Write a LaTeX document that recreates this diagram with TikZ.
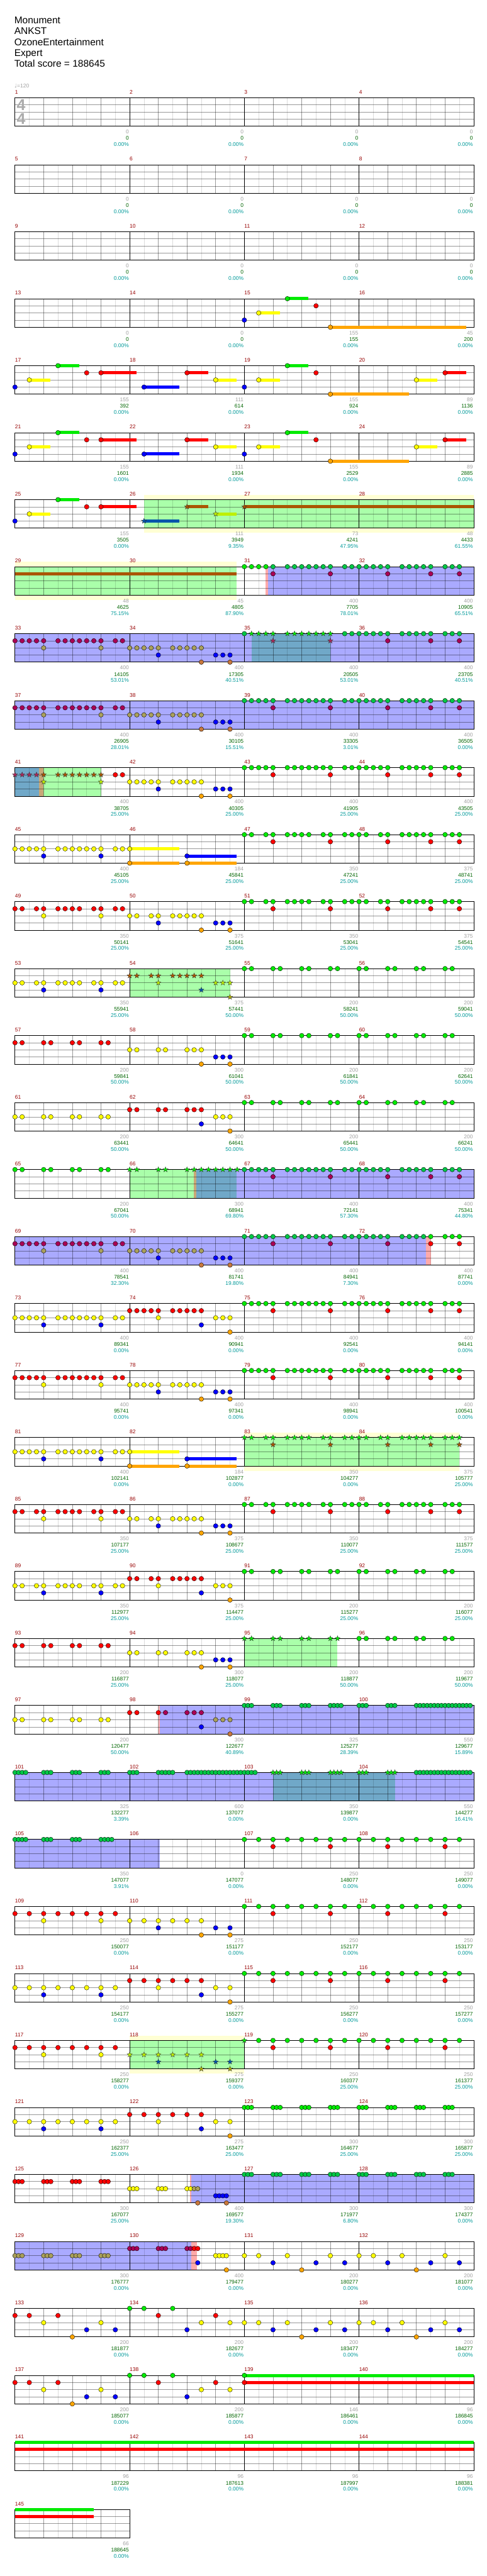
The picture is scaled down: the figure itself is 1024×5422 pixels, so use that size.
\documentclass[tikz,border=0pt]{standalone}
\usepackage{fontspec}
\setmainfont{Liberation Sans}
\newfontfamily\symfont{DejaVu Sans}

% note colours
\definecolor{ngrn}{RGB}{0,235,0}
\definecolor{nred}{RGB}{255,0,0}
\definecolor{nyel}{RGB}{255,255,0}
\definecolor{nblu}{RGB}{0,0,255}
\definecolor{norg}{RGB}{255,165,0}
\definecolor{agrn}{RGB}{0,200,70}
\definecolor{apur}{RGB}{170,0,85}
\definecolor{aoli}{RGB}{170,160,90}
\definecolor{aorg}{RGB}{200,120,60}
\definecolor{sgrn}{RGB}{0,235,0}
\definecolor{sbrn}{RGB}{170,85,0}
\definecolor{syel}{RGB}{190,240,0}
\definecolor{sblu}{RGB}{0,85,170}
\definecolor{sorg}{RGB}{170,170,0}
\definecolor{spur}{RGB}{170,40,90}
% region colours
\definecolor{spg}{RGB}{170,255,170}
\definecolor{spy}{RGB}{255,255,212}
\definecolor{actb}{RGB}{170,170,255}
\definecolor{teal}{RGB}{112,168,200}
\definecolor{pnk}{RGB}{255,170,170}
\definecolor{tan}{RGB}{200,168,120}
% text colours
\definecolor{mnumcol}{RGB}{150,0,0}
\definecolor{sgray}{RGB}{160,160,160}
\definecolor{sgreen}{RGB}{0,100,0}
\definecolor{steal}{RGB}{0,153,153}

\tikzset{
  chartrow/.style={xshift=31.5pt, yshift={-205.7pt-141pt*#1}, x=15.08pt, y=-15pt},
  lightln/.style={black, opacity=0.14, line width=0.8pt},
  midln/.style={black, opacity=0.4, line width=0.8pt},
  barln/.style={black, line width=0.8pt},
  staffedge/.style={black, line width=1pt},
  pics/gem/.style={code={\filldraw[fill=#1, draw=black, line width=0.5pt] (0,0) circle[radius=4.9pt];}},
  pics/spstar/.style={code={\filldraw[fill=#1, draw=black!80, line width=0.45pt]
    (90:5.8pt) -- (126:2.4pt) -- (162:5.8pt) -- (198:2.4pt) -- (234:5.8pt) -- (270:2.4pt)
    -- (306:5.8pt) -- (342:2.4pt) -- (18:5.8pt) -- (54:2.4pt) -- cycle;}},
  numfont/.style={font=\fontsize{11.2}{12}\selectfont, inner sep=0pt},
  mnum/.style={numfont, text=mnumcol, anchor=base west},
  scorea/.style={numfont, text=sgray, anchor=base east},
  scoreb/.style={numfont, text=sgreen, anchor=base east},
  scorec/.style={numfont, text=steal, anchor=base east},
  titletext/.style={font=\fontsize{20.5}{23}\selectfont, inner sep=0pt, anchor=base west},
}

% staff grid of one row (in sixteenths and lanes)
\newcommand\drawstaff{%
  \foreach \e in {2,6,...,62} \draw[lightln] (\e,0) -- (\e,4);
  \foreach \e in {4,8,...,60} \draw[midln] (\e,0) -- (\e,4);
  \foreach \l in {1,2,3} \draw[midln] (0,\l) -- (64,\l);
  \foreach \e in {16,32,48} \draw[barln] (\e,0) -- (\e,4);
  \draw[staffedge] (0,0) rectangle (64,4);
}
\newcommand\drawstaffone{%
  \foreach \e in {2,6,10,14} \draw[lightln] (\e,0) -- (\e,4);
  \foreach \e in {4,8,12} \draw[midln] (\e,0) -- (\e,4);
  \foreach \l in {1,2,3} \draw[midln] (0,\l) -- (16,\l);
  \draw[staffedge] (0,0) rectangle (16,4);
}
\newcommand\spfill[3]{\fill[#1] (#2,0) rectangle (#3,4);}
\newcommand\spband[2]{\fill[spy] ([yshift=10pt]#1,0) rectangle ([yshift=-10pt]#2,4);}
\newcommand\hold[4]{\fill[#1] ([yshift=3.3pt]#3,#2) rectangle ([yshift=-3.3pt]#4,#2);}
% #1 pic, #2 offset, #3 colour, #4 lane, #5 positions
\newcommand\gemrow[5]{\foreach \nx in {#5} {\pic at ({#2+\nx},#4) {#1=#3};}}

% repeating figures
\newcommand\patGR[4]{\gemrow{#1}{#2}{#3}{0}{0,1,2,3,4,6,7,8,9,10,11,12,14,15,16,17,18,19,20,22,23,24,25,26,28,29,30}%
  \gemrow{#1}{#2}{#4}{1}{4,12,20,26,30}}
\newcommand\patGRb[4]{\gemrow{#1}{#2}{#3}{0}{0,1,3,4,6,7,8,9,11,12,14,15,16,17,19,20,22,23,24,25,26,28,29,30}%
  \gemrow{#1}{#2}{#4}{1}{4,12,20,26,30}}
\newcommand\patRY[5]{%
  \gemrow{gem}{#1}{#2}{1}{0,1,2,3,4,6,7,8,9,10,11,12,14,15}%
  \gemrow{gem}{#1}{#3}{2}{4,12,16,17,18,19,20,22,23,24,25,26}%
  \gemrow{gem}{#1}{#4}{3}{20,28,29,30}%
  \gemrow{gem}{#1}{#5}{4}{26,30}}
\newcommand\patRYb[1]{%
  \gemrow{gem}{#1}{nred}{1}{0,1,3,4,6,7,8,9,11,12,14,15}%
  \gemrow{gem}{#1}{nyel}{2}{4,12,16,17,19,20,22,23,24,25,26}%
  \gemrow{gem}{#1}{nblu}{3}{20,28,29,30}%
  \gemrow{gem}{#1}{norg}{4}{26,30}}
\newcommand\patYR[1]{%
  \gemrow{gem}{#1}{nyel}{2}{0,1,2,3,4,6,7,8,9,10,11,12,14,15,20,28,29,30}%
  \gemrow{gem}{#1}{nblu}{3}{4,12,26}%
  \gemrow{gem}{#1}{nred}{1}{16,17,18,19,20,22,23,24,25,26}%
  \gemrow{gem}{#1}{norg}{4}{30}}
\newcommand\patYS[1]{%
  \hold{nyel}{2}{16}{22.95}\hold{norg}{4}{16}{22.95}\hold{nblu}{3}{24}{30.95}\hold{norg}{4}{24}{30.95}%
  \gemrow{gem}{#1}{nyel}{2}{0,1,2,3,4,6,7,8,9,10,11,12,14,15,16}%
  \gemrow{gem}{#1}{nblu}{3}{4,12,24}%
  \gemrow{gem}{#1}{norg}{4}{16,24}}
\newcommand\patGP[3]{\gemrow{#1}{#2}{#3}{0}{0,1,4,5,8,9,12,13,16,17,20,21,24,25,28,29}}
\newcommand\patRP[1]{%
  \gemrow{gem}{#1}{nred}{1}{0,1,4,5,8,9,12,13}%
  \gemrow{gem}{#1}{nyel}{2}{16,17,20,21,24,25,26}%
  \gemrow{gem}{#1}{nblu}{3}{28,29,30}%
  \gemrow{gem}{#1}{norg}{4}{26,30}}
\newcommand\patYP[1]{%
  \gemrow{gem}{#1}{nyel}{2}{0,1,4,5,8,9,12,13,28,29,30}%
  \gemrow{gem}{#1}{nred}{1}{16,17,20,21,24,25,26}%
  \gemrow{gem}{#1}{nblu}{3}{26}%
  \gemrow{gem}{#1}{norg}{4}{30}}
\newcommand\patE[1]{\gemrow{gem}{#1}{ngrn}{0}{0,2,...,30}\gemrow{gem}{#1}{nred}{1}{4,12,20,28}}
\newcommand\patF[1]{%
  \gemrow{gem}{#1}{nyel}{2}{0,2,6,12,16,18,22,28}%
  \gemrow{gem}{#1}{nblu}{3}{4,10,14,20,26,30}%
  \gemrow{gem}{#1}{norg}{4}{8,24}}
\newcommand\patG[1]{%
  \gemrow{gem}{#1}{nred}{1}{0,2,6,20,28}%
  \gemrow{gem}{#1}{nyel}{2}{4,12,26,30}%
  \gemrow{gem}{#1}{norg}{4}{8}%
  \gemrow{gem}{#1}{nblu}{3}{10,14,24}%
  \gemrow{gem}{#1}{ngrn}{0}{16,18,22}}
\newcommand\patT[2]{\gemrow{gem}{#1}{#2}{0}{0,0.5,1,4,4.5,5,8,8.5,9,12,12.5,13,16,16.5,17,20,20.5,21,24,24.5,25,28,28.5,29}}
\newcommand\introrow{%
  \hold{nyel}{2}{2}{4.95}\hold{ngrn}{0}{6}{8.95}\hold{nred}{1}{12}{16.95}\hold{nblu}{3}{18}{22.95}%
  \hold{nred}{1}{24}{26.95}\hold{nyel}{2}{28}{30.95}\hold{nyel}{2}{34}{36.95}\hold{ngrn}{0}{38}{40.95}%
  \hold{norg}{4}{44}{54.95}\hold{nyel}{2}{56}{58.95}\hold{nred}{1}{60}{62.95}%
  \gemrow{gem}{0}{nblu}{3}{0,18,32}\gemrow{gem}{0}{nyel}{2}{2,28,34,56}\gemrow{gem}{0}{ngrn}{0}{6,38}%
  \gemrow{gem}{0}{nred}{1}{10,12,24,42,60}\gemrow{gem}{0}{norg}{4}{44}}

\begin{document}
\begin{tikzpicture}[x=1pt, y=-1pt]
  \useasboundingbox (0,0) rectangle (1024,5422);

  % rows 1-12
  \foreach \k in {0,1,2} {\begin{scope}[chartrow=\k] \drawstaff \end{scope}}
  \begin{scope}[chartrow=3]
    \drawstaff
    \hold{nyel}{2}{34}{36.95}\hold{ngrn}{0}{38}{40.95}\hold{norg}{4}{44}{62.95}
    \gemrow{gem}{0}{nblu}{3}{32}\gemrow{gem}{0}{nyel}{2}{34}\gemrow{gem}{0}{ngrn}{0}{38}
    \gemrow{gem}{0}{nred}{1}{42}\gemrow{gem}{0}{norg}{4}{44}
  \end{scope}
  \begin{scope}[chartrow=4] \drawstaff \introrow \end{scope}
  \begin{scope}[chartrow=5] \drawstaff \introrow \end{scope}
  \begin{scope}[chartrow=6]
    \spband{18}{64}\spfill{spg}{18}{64}
    \drawstaff
    \hold{nyel}{2}{2}{4.95}\hold{ngrn}{0}{6}{8.95}\hold{nred}{1}{12}{16.95}
    \hold{sblu}{3}{18}{22.95}\hold{sbrn}{1}{24}{26.95}\hold{syel}{2}{28}{30.95}\hold{sbrn}{1}{32}{64}
    \gemrow{gem}{0}{nblu}{3}{0}\gemrow{gem}{0}{nyel}{2}{2}\gemrow{gem}{0}{ngrn}{0}{6}\gemrow{gem}{0}{nred}{1}{10,12}
    \gemrow{spstar}{0}{sblu}{3}{18}\gemrow{spstar}{0}{sbrn}{1}{24,32}\gemrow{spstar}{0}{syel}{2}{28}
  \end{scope}
  \begin{scope}[chartrow=7]
    \spband{0}{30.95}\spfill{spg}{0}{30.95}\spfill{pnk}{34.96}{35.3}\spfill{actb}{35.3}{64}
    \drawstaff
    \hold{sbrn}{1}{0}{30.95}
    \gemrow{gem}{32}{ngrn}{0}{0,1,2,3}
    \gemrow{gem}{32}{agrn}{0}{4,6,7,8,9,10,11,12,14,15,16,17,18,19,20,22,23,24,25,26,28,29,30}
    \gemrow{gem}{32}{apur}{1}{4,12,20,26,30}
  \end{scope}
  \begin{scope}[chartrow=8]
    \spfill{actb}{0}{64}\spfill{teal}{33}{44}
    \drawstaff
    \patRY{0}{apur}{aoli}{nblu}{aorg}
    \gemrow{gem}{32}{agrn}{0}{0}
    \gemrow{spstar}{32}{sgrn}{0}{1,2,3,4,6,7,8,9,10,11,12}
    \gemrow{spstar}{32}{spur}{1}{4,12}
    \gemrow{gem}{32}{agrn}{0}{14,15,16,17,18,19,20,22,23,24,25,26,28,29,30}
    \gemrow{gem}{32}{apur}{1}{20,26,30}
  \end{scope}
  \begin{scope}[chartrow=9]
    \spfill{actb}{0}{64}
    \drawstaff
    \patRY{0}{apur}{aoli}{nblu}{aorg}
    \patGR{gem}{32}{agrn}{apur}
  \end{scope}
  \begin{scope}[chartrow=10]
    \spfill{teal}{0}{3.31}\spfill{tan}{3.31}{4}\spfill{spg}{4}{12}
    \drawstaff
    \gemrow{spstar}{0}{spur}{1}{0,1,2,3}
    \gemrow{spstar}{0}{sbrn}{1}{4,6,7,8,9,10,11,12}
    \gemrow{spstar}{0}{syel}{2}{4,12}
    \gemrow{gem}{0}{nred}{1}{14,15}
    \gemrow{gem}{0}{nyel}{2}{16,17,18,19,20,22,23,24,25,26}
    \gemrow{gem}{0}{nblu}{3}{20,28,29,30}
    \gemrow{gem}{0}{norg}{4}{26,30}
    \patGR{gem}{32}{ngrn}{nred}
  \end{scope}
  \begin{scope}[chartrow=11] \drawstaff \patYS{0} \patGRb{gem}{32}{ngrn}{nred} \end{scope}
  \begin{scope}[chartrow=12] \drawstaff \patRYb{0} \patGRb{gem}{32}{ngrn}{nred} \end{scope}
  \begin{scope}[chartrow=13]
    \spfill{spg}{16}{30.04}
    \drawstaff
    \gemrow{gem}{0}{nyel}{2}{0,1,3,4,6,7,8,9,11,12,14,15}
    \gemrow{gem}{0}{nblu}{3}{4,12}
    \gemrow{spstar}{0}{sbrn}{1}{16,17,19,20,22,23,24,25,26}
    \gemrow{spstar}{0}{syel}{2}{20,28,29,30}
    \gemrow{spstar}{0}{sblu}{3}{26}
    \gemrow{spstar}{0}{sorg}{4}{30}
    \patGP{gem}{32}{ngrn}
  \end{scope}
  \begin{scope}[chartrow=14] \drawstaff \patRP{0} \patGP{gem}{32}{ngrn} \end{scope}
  \begin{scope}[chartrow=15] \drawstaff \patYP{0} \patGP{gem}{32}{ngrn} \end{scope}
  \begin{scope}[chartrow=16]
    \spfill{spg}{16}{24.99}\spfill{tan}{24.99}{25.34}\spfill{actb}{25.34}{64}\spfill{teal}{25.34}{30.95}
    \drawstaff
    \gemrow{gem}{0}{ngrn}{0}{0,1,4,5,8,9,12,13}
    \gemrow{spstar}{0}{sgrn}{0}{16,17,20,21,24,25,26,27,28,29,30,31}
    \patGR{gem}{32}{agrn}{apur}
  \end{scope}
  \begin{scope}[chartrow=17]
    \spfill{actb}{0}{57.34}\spfill{pnk}{57.34}{58}
    \drawstaff
    \patRY{0}{apur}{aoli}{nblu}{aorg}
    \gemrow{gem}{32}{agrn}{0}{0,1,2,3,4,6,7,8,9,10,11,12,14,15,16,17,18,19,20,22,23,24,25}
    \gemrow{gem}{32}{ngrn}{0}{26,28,29,30}
    \gemrow{gem}{32}{apur}{1}{4,12,20}
    \gemrow{gem}{32}{nred}{1}{26,30}
  \end{scope}
  \begin{scope}[chartrow=18] \drawstaff \patYR{0} \patGR{gem}{32}{ngrn}{nred} \end{scope}
  \begin{scope}[chartrow=19] \drawstaff \patRY{0}{nred}{nyel}{nblu}{norg} \patGR{gem}{32}{ngrn}{nred} \end{scope}
  \begin{scope}[chartrow=20]
    \spband{32}{62}\spfill{spg}{32}{62}
    \drawstaff
    \patYS{0}
    \patGRb{spstar}{32}{sgrn}{sbrn}
  \end{scope}
  \begin{scope}[chartrow=21] \drawstaff \patRYb{0} \patGRb{gem}{32}{ngrn}{nred} \end{scope}
  \begin{scope}[chartrow=22]
    \drawstaff
    \gemrow{gem}{0}{nyel}{2}{0,1,3,4,6,7,8,9,11,12,14,15,20,28,29,30}
    \gemrow{gem}{0}{nblu}{3}{4,12,26}
    \gemrow{gem}{0}{nred}{1}{16,17,19,20,22,23,24,25,26}
    \gemrow{gem}{0}{norg}{4}{30}
    \patGP{gem}{32}{ngrn}
  \end{scope}
  \begin{scope}[chartrow=23]
    \spfill{spg}{32}{45}
    \drawstaff
    \patRP{0}
    \gemrow{spstar}{32}{sgrn}{0}{0,1,4,5,8,9,12,13}
    \gemrow{gem}{32}{ngrn}{0}{16,17,20,21,24,25,28,29}
  \end{scope}
  \begin{scope}[chartrow=24]
    \spfill{pnk}{20.03}{20.24}\spfill{actb}{20.24}{64}
    \drawstaff
    \gemrow{gem}{0}{nyel}{2}{0,1,4,5,8,9,12,13}
    \gemrow{gem}{0}{nred}{1}{16,17,20}
    \gemrow{gem}{0}{apur}{1}{21,24,25,26}
    \gemrow{gem}{0}{aoli}{2}{28,29,30}
    \gemrow{gem}{0}{nblu}{3}{26}
    \gemrow{gem}{0}{aorg}{4}{30}
    \gemrow{gem}{32}{agrn}{0}{0,0.5,1,4,4.5,5,8,8.5,9,12,12.5,13,13.5,16,16.5,17,20,20.5,21}
    \gemrow{gem}{0}{agrn}{0}{56,56.5,...,63.5}
  \end{scope}
  \begin{scope}[chartrow=25]
    \spfill{actb}{0}{64}\spfill{teal}{36}{53}
    \drawstaff
    \gemrow{gem}{0}{agrn}{0}{0,0.5,1,1.5,4,4.5,5,8,8.5,9,12,12.5,13,16,16.5,17,20,20.5,21,21.5,22}
    \gemrow{gem}{0}{agrn}{0}{24,24.5,...,33.5}
    \gemrow{spstar}{0}{sgrn}{0}{36,36.5,37,40,40.5,41,44,44.5,45,45.5,48,48.5,49,52,52.5,53}
    \gemrow{gem}{0}{agrn}{0}{56,56.5,...,63.5}
  \end{scope}
  \begin{scope}[chartrow=26]
    \spfill{actb}{0}{20.24}
    \drawstaff
    \gemrow{gem}{0}{agrn}{0}{0,0.5,1,1.5,4,4.5,5,8,8.5,9,12,12.5,13,13.5}
    \patE{32}
  \end{scope}
  \begin{scope}[chartrow=27]
    \drawstaff
    \gemrow{gem}{0}{nred}{1}{0,2,...,14}
    \gemrow{gem}{0}{nyel}{2}{4,12,16,18,20,22,24,26}
    \gemrow{gem}{0}{nblu}{3}{20,28,30}
    \gemrow{gem}{0}{norg}{4}{26,30}
    \patE{32}
  \end{scope}
  \begin{scope}[chartrow=28]
    \drawstaff
    \gemrow{gem}{0}{nyel}{2}{0,2,4,6,8,10,12,14,20,28,30}
    \gemrow{gem}{0}{nblu}{3}{4,12,26}
    \gemrow{gem}{0}{nred}{1}{16,18,20,22,24,26}
    \gemrow{gem}{0}{norg}{4}{30}
    \patE{32}
  \end{scope}
  \begin{scope}[chartrow=29]
    \spband{16}{32}\spfill{spg}{16}{32}
    \drawstaff
    \gemrow{gem}{0}{nred}{1}{0,2,...,14}
    \gemrow{gem}{0}{nyel}{2}{4,12}
    \gemrow{spstar}{0}{syel}{2}{16,18,20,22,24,26}
    \gemrow{spstar}{0}{sblu}{3}{20,28,30}
    \gemrow{spstar}{0}{sorg}{4}{26,30}
    \gemrow{spstar}{0}{sgrn}{0}{32}
    \gemrow{gem}{0}{ngrn}{0}{34,36,...,62}
    \gemrow{gem}{0}{nred}{1}{36,44,52,60}
  \end{scope}
  \begin{scope}[chartrow=30]
    \drawstaff
    \gemrow{gem}{0}{nyel}{2}{0,2,4,6,8,10,12,14,20,28,30}
    \gemrow{gem}{0}{nblu}{3}{4,12,26}
    \gemrow{gem}{0}{nred}{1}{16,18,20,22,24,26}
    \gemrow{gem}{0}{norg}{4}{30}
    \patT{32}{ngrn}
  \end{scope}
  \begin{scope}[chartrow=31]
    \spfill{pnk}{24.38}{24.6}\spfill{actb}{24.6}{64}
    \drawstaff
    \gemrow{gem}{0}{nred}{1}{0,0.5,1,4,4.5,5,8,8.5,9,12,12.5,13}
    \gemrow{gem}{0}{nyel}{2}{16,16.5,17,20,20.5,21,24,24.5}
    \gemrow{gem}{0}{aoli}{2}{25,25.5}
    \gemrow{gem}{0}{nblu}{3}{28,28.5,29,29.5}
    \gemrow{gem}{0}{aorg}{4}{25.5,29.5}
    \patT{32}{agrn}
  \end{scope}
  \begin{scope}[chartrow=32]
    \spfill{actb}{0}{24.6}\spfill{pnk}{24.6}{25.42}
    \drawstaff
    \gemrow{gem}{0}{aoli}{2}{0,0.5,1,4,4.5,5,8,8.5,9,12,12.5,13}
    \gemrow{gem}{0}{apur}{1}{16,16.5,17,20,20.5,21,24,24.5}
    \gemrow{gem}{0}{nred}{1}{25,25.5}
    \gemrow{gem}{0}{nblu}{3}{25.5}
    \gemrow{gem}{0}{nyel}{2}{28,28.5,29,29.5}
    \gemrow{gem}{0}{norg}{4}{29.5}
    \patF{32}
  \end{scope}
  \begin{scope}[chartrow=33] \drawstaff \patG{0} \patF{32} \end{scope}
  \begin{scope}[chartrow=34]
    \drawstaff
    \patG{0}
    \hold{ngrn}{0}{32}{64}\hold{nred}{1}{32}{64}
    \gemrow{gem}{0}{ngrn}{0}{32}\gemrow{gem}{0}{nred}{1}{32}
  \end{scope}
  \begin{scope}[chartrow=35] \drawstaff \hold{ngrn}{0}{0}{64}\hold{nred}{1}{0}{64} \end{scope}
  \begin{scope}[chartrow=36] \drawstaffone \hold{ngrn}{0}{0}{10.97}\hold{nred}{1}{0}{10.97} \end{scope}

  % header
  \node[titletext] (song) at (30,49.3) {Monument};
  \node[titletext] (artist) at (30,72.3) {ANKST};
  \node[titletext] (charter) at (30,95.7) {OzoneEntertainment};
  \node[titletext] (level) at (30,118.7) {Expert};
  \node[titletext] (total) at (30,141.3) {Total score = 188645};
  \node[numfont, text=sgray, anchor=base west] (tempo) at (30.5,185) {{\symfont ♩}=120};
  \node[font=\bfseries\fontsize{33}{33}\selectfont, text=black!33, inner sep=0pt] (tsup) at (44.5,220.5) {4};
  \node[font=\bfseries\fontsize{33}{33}\selectfont, text=black!33, inner sep=0pt] (tslo) at (44.5,250.5) {4};

  % measure numbers
  \foreach \m in {1,...,145} {
    \pgfmathtruncatemacro\rk{(\m-1)/4}
    \pgfmathtruncatemacro\cj{\m-1-4*\rk}
    \node[mnum] (mn\m) at (31.5+241.28*\cj, 197.7+141*\rk) {\m};
  }

  % scores under each bar
  \foreach \m/\a/\b/\c in {1/0/0/0.00, 2/0/0/0.00, 3/0/0/0.00, 4/0/0/0.00,
      5/0/0/0.00, 6/0/0/0.00, 7/0/0/0.00, 8/0/0/0.00,
      9/0/0/0.00, 10/0/0/0.00, 11/0/0/0.00, 12/0/0/0.00,
      13/0/0/0.00, 14/0/0/0.00, 15/155/155/0.00, 16/45/200/0.00,
      17/155/392/0.00, 18/111/614/0.00, 19/155/924/0.00, 20/89/1136/0.00,
      21/155/1601/0.00, 22/111/1934/0.00, 23/155/2529/0.00, 24/89/2885/0.00,
      25/155/3505/0.00, 26/111/3949/9.35, 27/73/4241/47.95, 28/48/4433/61.55,
      29/48/4625/75.15, 30/45/4805/87.90, 31/400/7705/78.01, 32/400/10905/65.51,
      33/400/14105/53.01, 34/400/17305/40.51, 35/400/20505/53.01, 36/400/23705/40.51,
      37/400/26905/28.01, 38/400/30105/15.51, 39/400/33305/3.01, 40/400/36505/0.00,
      41/400/38705/25.00, 42/400/40305/25.00, 43/400/41905/25.00, 44/400/43505/25.00,
      45/400/45105/25.00, 46/184/45841/25.00, 47/350/47241/25.00, 48/375/48741/25.00,
      49/350/50141/25.00, 50/375/51641/25.00, 51/350/53041/25.00, 52/375/54541/25.00,
      53/350/55941/25.00, 54/375/57441/50.00, 55/200/58241/50.00, 56/200/59041/50.00,
      57/200/59841/50.00, 58/300/61041/50.00, 59/200/61841/50.00, 60/200/62641/50.00,
      61/200/63441/50.00, 62/300/64641/50.00, 63/200/65441/50.00, 64/200/66241/50.00,
      65/200/67041/50.00, 66/300/68941/69.80, 67/400/72141/57.30, 68/400/75341/44.80,
      69/400/78541/32.30, 70/400/81741/19.80, 71/400/84941/7.30, 72/400/87741/0.00,
      73/400/89341/0.00, 74/400/90941/0.00, 75/400/92541/0.00, 76/400/94141/0.00,
      77/400/95741/0.00, 78/400/97341/0.00, 79/400/98941/0.00, 80/400/100541/0.00,
      81/400/102141/0.00, 82/184/102877/0.00, 83/350/104277/0.00, 84/375/105777/25.00,
      85/350/107177/25.00, 86/375/108677/25.00, 87/350/110077/25.00, 88/375/111577/25.00,
      89/350/112977/25.00, 90/375/114477/25.00, 91/200/115277/25.00, 92/200/116077/25.00,
      93/200/116877/25.00, 94/300/118077/25.00, 95/200/118877/50.00, 96/200/119677/50.00,
      97/200/120477/50.00, 98/300/122677/40.89, 99/325/125277/28.39, 100/550/129677/15.89,
      101/325/132277/3.39, 102/600/137077/0.00, 103/350/139877/0.00, 104/550/144277/16.41,
      105/350/147077/3.91, 106/0/147077/0.00, 107/250/148077/0.00, 108/250/149077/0.00,
      109/250/150077/0.00, 110/275/151177/0.00, 111/250/152177/0.00, 112/250/153177/0.00,
      113/250/154177/0.00, 114/275/155277/0.00, 115/250/156277/0.00, 116/250/157277/0.00,
      117/250/158277/0.00, 118/275/159377/0.00, 119/250/160377/25.00, 120/250/161377/25.00,
      121/250/162377/25.00, 122/275/163477/25.00, 123/300/164677/25.00, 124/300/165877/25.00,
      125/300/167077/25.00, 126/400/169577/19.30, 127/300/171977/6.80, 128/300/174377/0.00,
      129/300/176777/0.00, 130/400/179477/0.00, 131/200/180277/0.00, 132/200/181077/0.00,
      133/200/181877/0.00, 134/200/182677/0.00, 135/200/183477/0.00, 136/200/184277/0.00,
      137/200/185077/0.00, 138/200/185877/0.00, 139/146/186461/0.00, 140/96/186845/0.00,
      141/96/187229/0.00, 142/96/187613/0.00, 143/96/187997/0.00, 144/96/188381/0.00,
      145/66/188645/0.00} {
    \pgfmathtruncatemacro\rk{(\m-1)/4}
    \pgfmathtruncatemacro\cj{\m-1-4*\rk}
    \pgfmathsetmacro\xe{31.5+241.28*(\cj+1)-1.5}
    \pgfmathsetmacro\yb{266+141*\rk}
    \node[scorea] (sa\m) at (\xe,\yb+15.7) {\a};
    \node[scoreb] (sb\m) at (\xe,\yb+29) {\b};
    \node[scorec] (sc\m) at (\xe,\yb+42) {\c\%};
  }
\end{tikzpicture}
\end{document}
